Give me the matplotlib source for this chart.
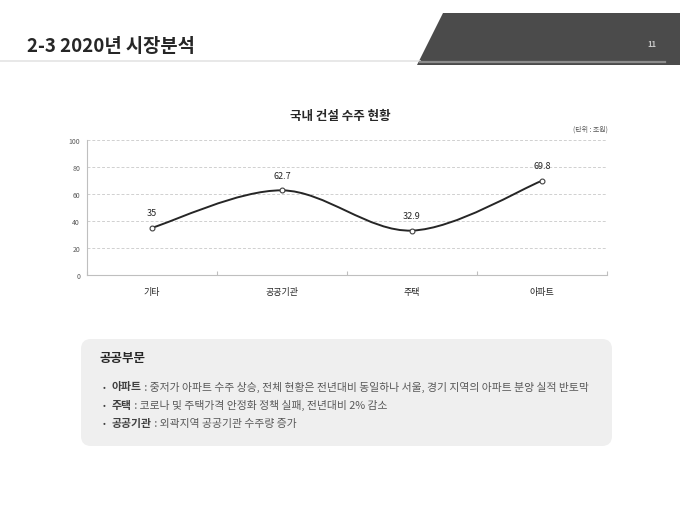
import matplotlib
matplotlib.use("Agg")
import matplotlib.pyplot as plt
from matplotlib.path import Path
from matplotlib.patches import PathPatch, Polygon, FancyBboxPatch
from matplotlib.lines import Line2D
import numpy as np

plt.rcParams['font.family'] = ['Noto Sans CJK KR', 'DejaVu Sans']

# ---- data ----
categories = ['기타', '공공기관', '주택', '아파트']
values = [35, 62.7, 32.9, 69.8]
value_labels = ['35', '62.7', '32.9', '69.8']
yticks = [0, 20, 40, 60, 80, 100]

page_title = '2-3 2020년 시장분석'
page_number = '11'
chart_title = '국내 건설 수주 현황'
unit_label = '(단위 : 조원)'
box_title = '공공부문'
bullet_heads = ['아파트', '주택', '공공기관']
bullet_bodies = [' : 중저가 아파트 수주 상승, 전체 현황은 전년대비 동일하나 서울, 경기 지역의 아파트 분양 실적 반토막',
                 ' : 코로나 및 주택가격 안정화 정책 실패, 전년대비 2% 감소',
                 ' : 외곽지역 공공기관 수주량 증가']

W, H = 680, 510
fig = plt.figure(figsize=(W / 100, H / 100), dpi=100)
fig.patch.set_facecolor('white')


def fx(x):
    return x / W


def fy(y):
    return 1 - y / H


# ---- header ----
bg = fig.add_axes([0, 0, 1, 1], zorder=0)
bg.set_xlim(0, W)
bg.set_ylim(H, 0)
bg.axis('off')
bg.add_patch(Polygon([(443, 14), (680, 14), (680, 66), (417, 66)], closed=True,
                     facecolor='#4b4b4b', edgecolor='none'))
bg.add_line(Line2D([0, 420], [62, 62], color='#e4e4e4', lw=1.2))
bg.add_line(Line2D([420, 665], [62.5, 62.5], color='#8c8c8c', lw=1.6))
bg.text(27, 47, page_title, fontsize=13.5, fontweight='bold', color='#262626',
        ha='left', va='center')
bg.text(652, 44.5, page_number, fontsize=5.5, color='#c8c8c8', ha='center',
        va='center', fontweight='bold')

# ---- bottom box ----
bg.add_patch(FancyBboxPatch((81 + 10, 340 + 10), 531 - 20, 107 - 20,
                            boxstyle='round,pad=10', facecolor='#efefef',
                            edgecolor='none'))
bg.text(100, 359, box_title, fontsize=9, fontweight='bold', color='#262626',
        ha='left', va='center')

fig.canvas.draw()
renderer = fig.canvas.get_renderer()
line_ys = [390.5, 409, 427]
for head, body, yy in zip(bullet_heads, bullet_bodies, line_ys):
    bg.text(104, yy - 3, '•', fontsize=6, color='#404040', ha='center', va='center')
    t = bg.text(112, yy, head, fontsize=7.8, fontweight='bold', color='#404040',
                ha='left', va='baseline')
    bb = t.get_window_extent(renderer=renderer)
    x_end = bg.transData.inverted().transform((bb.x1, bb.y0))[0]
    bg.text(x_end, yy, body, fontsize=7.8, color='#595959', ha='left', va='baseline')

# ---- chart ----
L, R, T, B = 87, 607, 141, 276
ax = fig.add_axes([fx(L), fy(B), (R - L) / W, (B - T) / H], zorder=1)
ax.patch.set_alpha(0)
x = np.arange(len(categories))
ax.set_xlim(-0.5, len(categories) - 0.5)
ax.set_ylim(0, 100)

# smoothed line (Catmull-Rom as cubic Bezier through the data points)
pts = np.column_stack([x, values]).astype(float)
n = len(pts)
verts = [tuple(pts[0])]
codes = [Path.MOVETO]
for i in range(n - 1):
    p0 = pts[max(i - 1, 0)]
    p1 = pts[i]
    p2 = pts[i + 1]
    p3 = pts[min(i + 2, n - 1)]
    c1 = p1 + (p2 - p0) / 6
    c2 = p2 - (p3 - p1) / 6
    verts += [tuple(c1), tuple(c2), tuple(p2)]
    codes += [Path.CURVE4] * 3
ax.add_patch(PathPatch(Path(verts, codes), facecolor='none', edgecolor='#262626',
                       lw=1.4, zorder=3))
ax.plot(x, values, linestyle='none', marker='o', markersize=3.5,
        markerfacecolor='white', markeredgecolor='#404040', markeredgewidth=0.8,
        zorder=4)
for xi, v, lab in zip(x, values, value_labels):
    ax.annotate(lab, (xi, v), xytext=(0, 7.5), textcoords='offset points',
                ha='center', va='bottom', fontsize=6.5, color='#262626')

ax.set_yticks(yticks)
ax.set_yticklabels([str(t) for t in yticks])
ax.set_xticks(x)
ax.set_xticklabels(categories)
ax.set_xticks(np.arange(-0.5, len(categories), 1), minor=True)
ax.tick_params(axis='y', length=0, labelsize=5, labelcolor='#595959', pad=5)
ax.tick_params(axis='x', which='major', length=0, labelsize=6.5,
               labelcolor='#262626', pad=9)
ax.tick_params(axis='x', which='minor', length=3, direction='in', color='#bfbfbf',
               width=0.8)
for g in yticks[1:]:
    ax.axhline(g, color='#d0d0d0', lw=0.7, ls=(0, (3, 2)), zorder=1)
for s in ['top', 'right']:
    ax.spines[s].set_visible(False)
ax.spines['left'].set_color('#bfbfbf')
ax.spines['bottom'].set_color('#bfbfbf')
ax.spines['left'].set_linewidth(0.8)
ax.spines['bottom'].set_linewidth(0.8)

fig.text(fx(340), fy(117), chart_title, fontsize=9, fontweight='bold',
         color='#262626', ha='center', va='center')
fig.text(fx(608), fy(129.5), unit_label, fontsize=5, color='#595959',
         ha='right', va='center')

fig.savefig('out.png', dpi=100, facecolor='white')
